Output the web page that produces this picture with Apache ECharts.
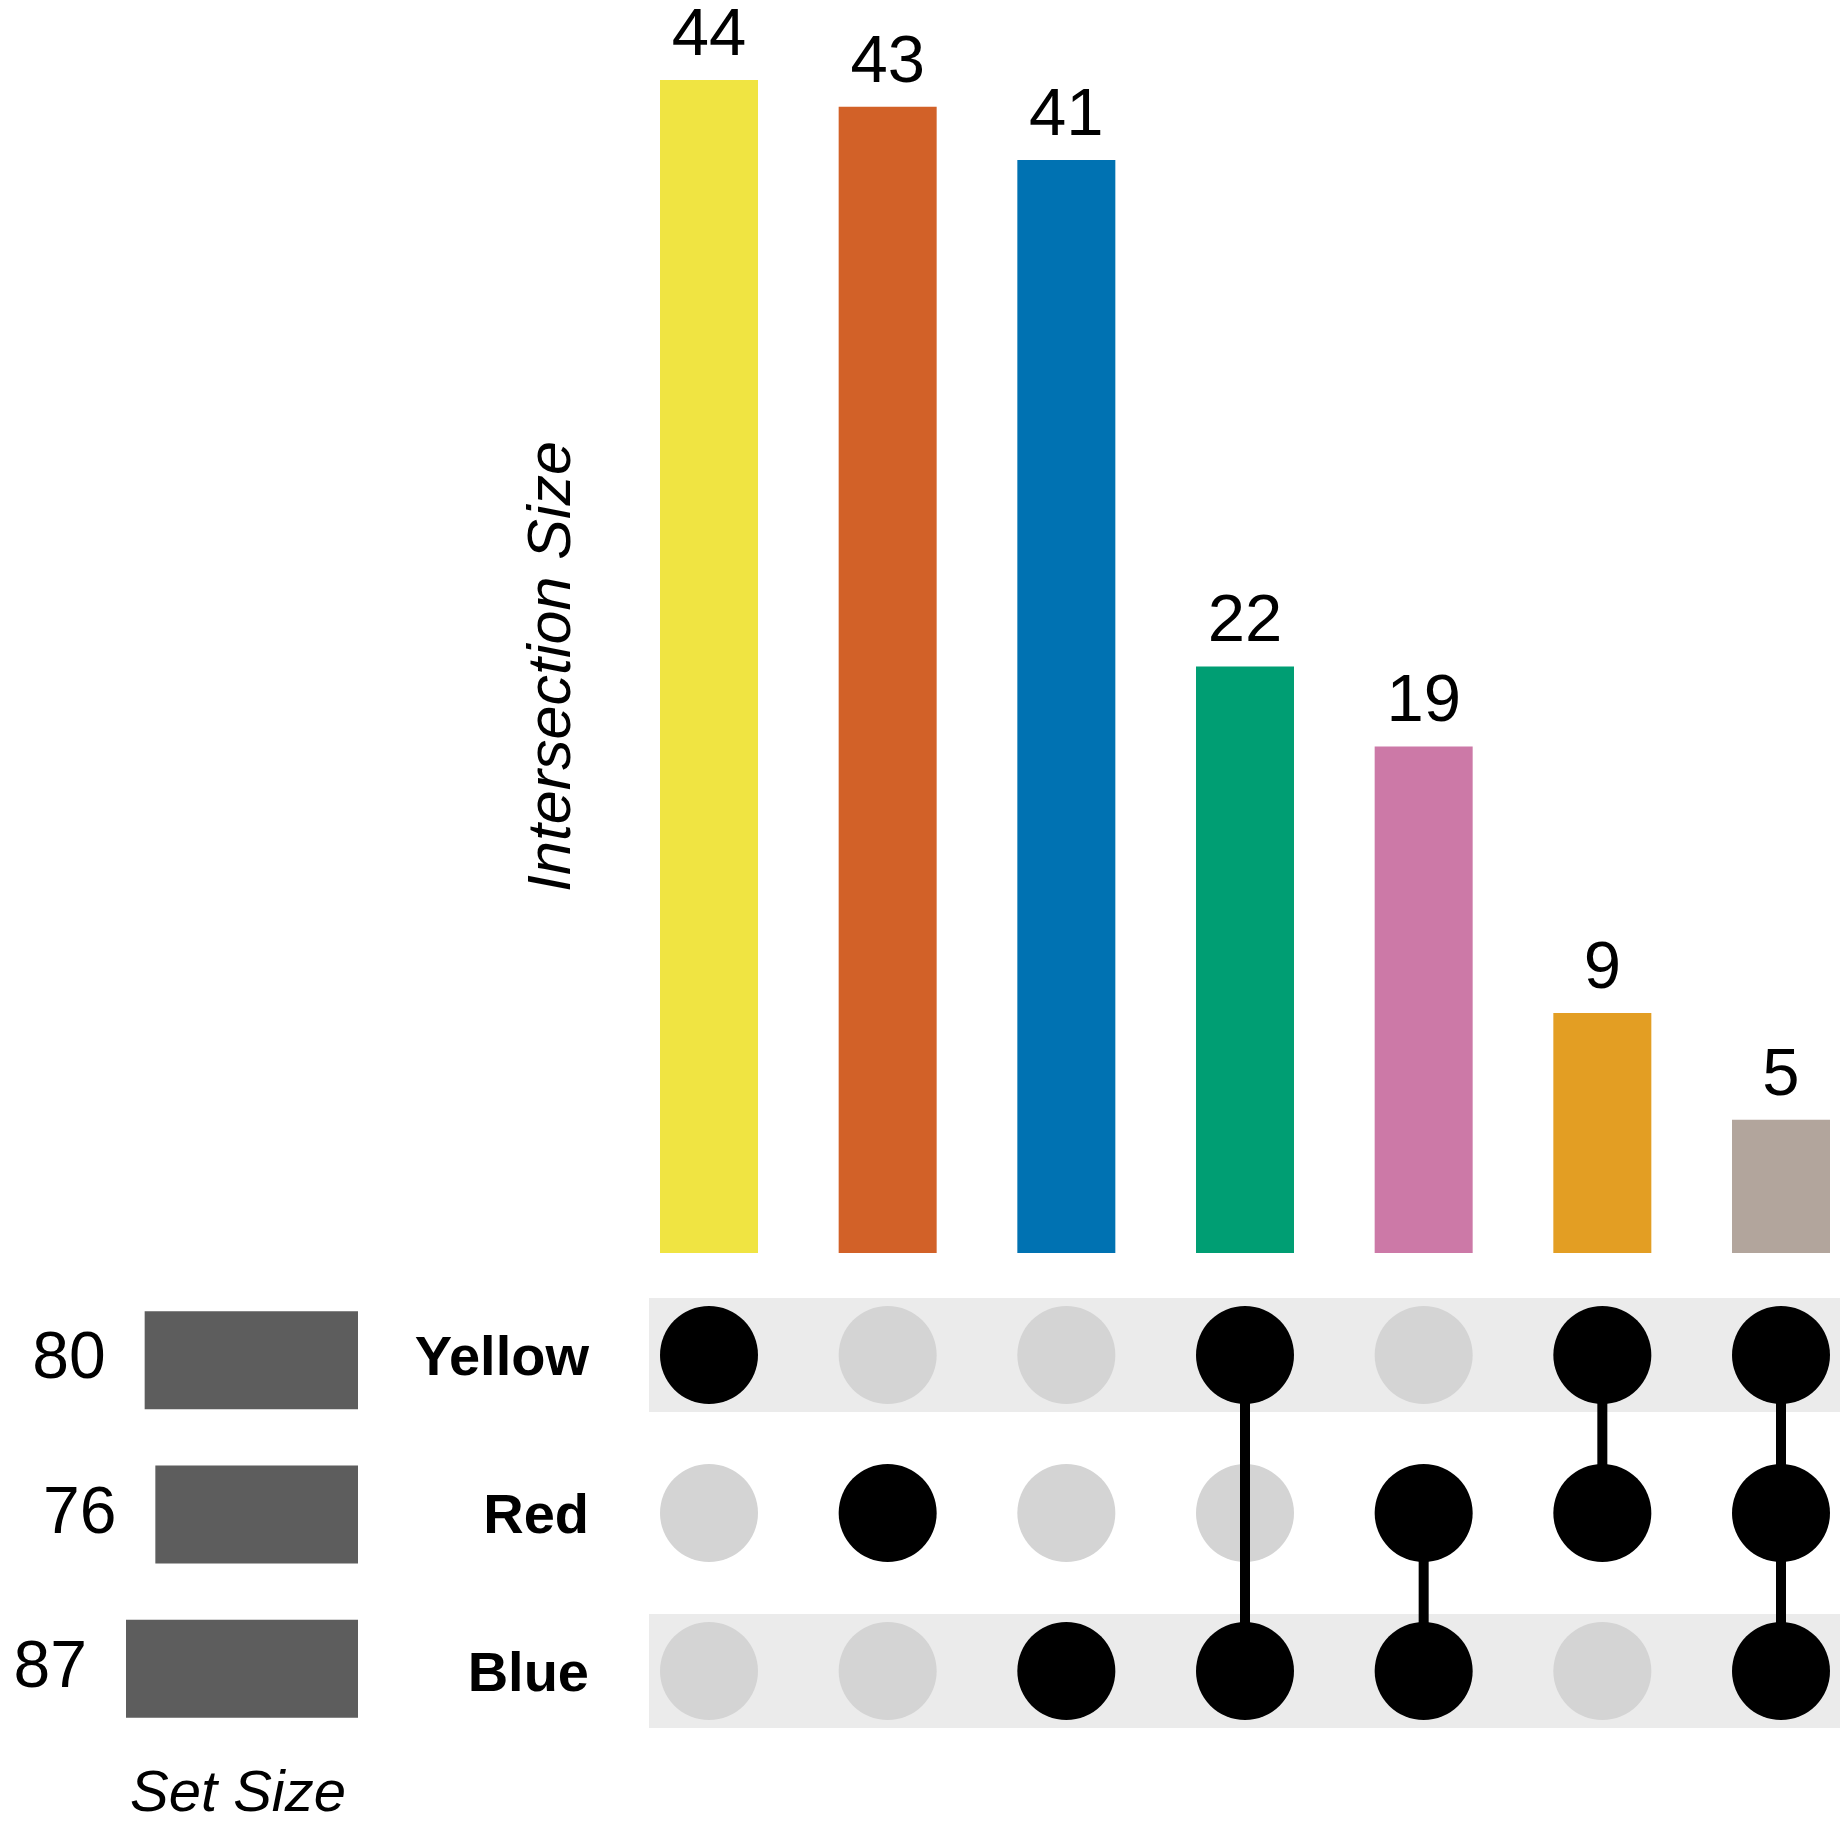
<!DOCTYPE html>
<html>
<head>
<meta charset="utf-8">
<script src="https://cdn.jsdelivr.net/npm/echarts@6/dist/echarts.min.js"></script>
<style>
html,body{margin:0;padding:0;background:#fff;}
#chart{width:1840px;height:1825px;}
</style>
</head>
<body>
<div id="chart"></div>
<script>
// ---- data ----
var intersections = ["Yellow", "Red", "Blue", "Yellow & Blue", "Red & Blue", "Yellow & Red", "Yellow & Red & Blue"];
var intersectionSizes = [44, 43, 41, 22, 19, 9, 5];
var barColors = ["#F0E442", "#D26128", "#0072B2", "#009E73", "#CC79A7", "#E39E23", "#B2A59C"];
var sets = ["Yellow", "Red", "Blue"];
var setSizes = [80, 76, 87];
var memberYellow = [1, 0, 0, 1, 0, 1, 1];
var memberRed    = [0, 1, 0, 0, 1, 1, 1];
var memberBlue   = [0, 0, 1, 1, 1, 0, 1];
var shadedRows = ["Yellow", "Blue"];

// ---- derived ----
var membership = [memberYellow, memberRed, memberBlue];
var activeDots = [], inactiveDots = [], links = [];
for (var c = 0; c < intersections.length; c++) {
  var rows = [];
  for (var r = 0; r < sets.length; r++) {
    if (membership[r][c]) { activeDots.push([c, r]); rows.push(r); }
    else inactiveDots.push([c, r]);
  }
  if (rows.length > 1) links.push([c, Math.min.apply(null, rows), Math.max.apply(null, rows)]);
}
var bandData = shadedRows.map(function (s) { return [0, sets.indexOf(s)]; });

var FONT = "Liberation Sans";
var CAT_LEFT = 709, CAT_WIDTH = 1072;
var MAT_TOP = 1276, MAT_HEIGHT = 474;

var chart = echarts.init(document.getElementById('chart'), null, {renderer: 'canvas'});
var option = {
  backgroundColor: '#ffffff',
  animation: false,
  textStyle: {fontFamily: FONT},
  grid: [
    {left: CAT_LEFT, width: CAT_WIDTH, top: 80, height: 1173},
    {left: CAT_LEFT, width: CAT_WIDTH, top: MAT_TOP, height: MAT_HEIGHT},
    {left: 118, width: 240, top: 1283, height: 470}
  ],
  xAxis: [
    {gridIndex: 0, type: 'category', boundaryGap: false, data: intersections, axisLine: {show: false}, axisTick: {show: false}, axisLabel: {show: false}, splitLine: {show: false}},
    {gridIndex: 1, type: 'category', boundaryGap: false, data: intersections, axisLine: {show: false}, axisTick: {show: false}, axisLabel: {show: false}, splitLine: {show: false}},
    {gridIndex: 2, type: 'value', inverse: true, min: 0, max: 90, axisLine: {show: false}, axisTick: {show: false}, axisLabel: {show: false}, splitLine: {show: false},
      name: 'Set Size', nameLocation: 'middle', nameGap: 20,
      nameTextStyle: {fontFamily: FONT, fontStyle: 'italic', fontSize: 58, color: '#000'}}
  ],
  yAxis: [
    {gridIndex: 0, type: 'value', min: 0, max: 44, axisLine: {show: false}, axisTick: {show: false}, axisLabel: {show: false}, splitLine: {show: false},
      name: 'Intersection Size', nameLocation: 'middle', nameGap: 125, nameRotate: 90,
      nameTextStyle: {fontFamily: FONT, fontStyle: 'italic', fontSize: 61, color: '#000'}},
    {gridIndex: 1, type: 'category', data: sets, inverse: true, axisLine: {show: false}, axisTick: {show: false}, splitLine: {show: false},
      axisLabel: {margin: 120, verticalAlign: 'top', lineHeight: 10, fontFamily: FONT, fontWeight: 'bold', fontSize: 56, color: '#000'}},
    {gridIndex: 2, type: 'category', data: sets, inverse: true, axisLine: {show: false}, axisTick: {show: false}, axisLabel: {show: false}}
  ],
  series: [
    {
      type: 'bar', xAxisIndex: 0, yAxisIndex: 0, barWidth: 98, clip: false,
      data: intersectionSizes.map(function (v, i) { return {value: v, itemStyle: {color: barColors[i]}}; }),
      label: {show: true, position: 'top', distance: 10, fontFamily: FONT, fontSize: 67, color: '#000'}
    },
    {
      type: 'custom', xAxisIndex: 1, yAxisIndex: 1, z: 1, silent: true, clip: false,
      data: bandData,
      renderItem: function (params, api) {
        var p = api.coord([api.value(0), api.value(1)]);
        var x0 = p[0] - 60;
        return {type: 'rect', shape: {x: x0, y: p[1] - 57, width: api.getWidth() - x0, height: 114},
          style: {fill: '#EBEBEB'}};
      }
    },
    {
      type: 'scatter', xAxisIndex: 1, yAxisIndex: 1, z: 2, symbolSize: 98, clip: false,
      itemStyle: {color: '#D4D4D4', opacity: 1}, data: inactiveDots
    },
    {
      type: 'custom', xAxisIndex: 1, yAxisIndex: 1, z: 3, silent: true, clip: false,
      data: links,
      renderItem: function (params, api) {
        var a = api.coord([api.value(0), api.value(1)]);
        var b = api.coord([api.value(0), api.value(2)]);
        return {type: 'line', shape: {x1: a[0], y1: a[1], x2: b[0], y2: b[1]},
          style: {stroke: '#000', lineWidth: 10}};
      }
    },
    {
      type: 'scatter', xAxisIndex: 1, yAxisIndex: 1, z: 4, symbolSize: 98, clip: false,
      itemStyle: {color: '#000', opacity: 1}, data: activeDots
    },
    {
      type: 'bar', xAxisIndex: 2, yAxisIndex: 2, barWidth: 98,
      itemStyle: {color: '#5D5D5D'},
      data: setSizes,
      label: {show: true, position: 'left', distance: 39, fontFamily: FONT, fontSize: 66, color: '#000'}
    }
  ]
};
chart.setOption(option);
</script>
</body>
</html>
